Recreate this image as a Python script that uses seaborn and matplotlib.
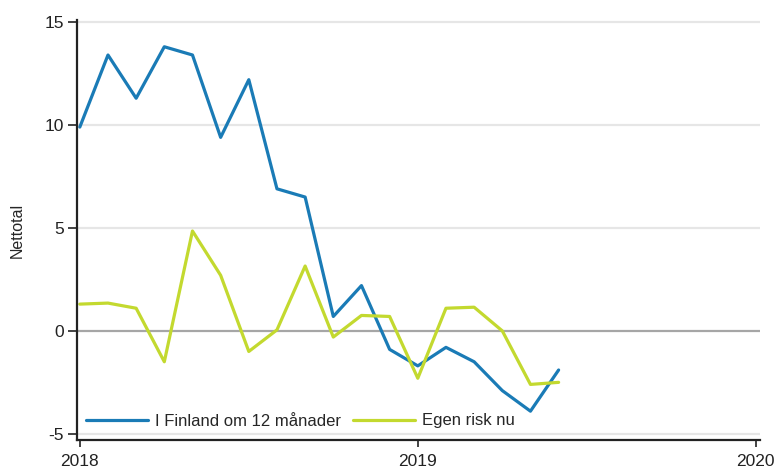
import numpy as np
import pandas as pd
import matplotlib
matplotlib.use("Agg")
import matplotlib.pyplot as plt
import seaborn as sns

months = list(range(18))  # months since Jan 2018
finland_12m = [9.9, 13.4, 11.3, 13.8, 13.4, 9.4, 12.2, 6.9, 6.5, 0.7, 2.2, -0.9,
               -1.7, -0.8, -1.5, -2.9, -3.9, -1.9]
egen_risk = [1.3, 1.35, 1.1, -1.5, 4.85, 2.7, -1.0, 0.05, 3.15, -0.3, 0.75, 0.7,
             -2.3, 1.1, 1.15, 0.0, -2.6, -2.5]
series_names = ["I Finland om 12 månader", "Egen risk nu"]
xtick_pos = [0, 12, 24]
xtick_labels = ["2018", "2019", "2020"]
yticks = [-5, 0, 5, 10, 15]

df = pd.DataFrame({
    "month": months * 2,
    "value": finland_12m + egen_risk,
    "serie": [series_names[0]] * len(months) + [series_names[1]] * len(months),
})

sns.set_style("white")
plt.rcParams['font.family'] = ['Liberation Sans', 'DejaVu Sans']

fig = plt.figure(figsize=(7.77, 4.72), dpi=100)
ax = fig.add_axes([77 / 777, 32 / 472, (760 - 77) / 777, (440 - 20) / 472])

for y in yticks:
    if y != 0:
        ax.axhline(y, color="#e6e6e6", lw=1.6, zorder=0)
ax.axhline(0, color="#a6a6a6", lw=1.6, zorder=1)

sns.lineplot(data=df, x="month", y="value", hue="serie", hue_order=series_names,
             palette=["#1a7bb6", "#c3d92f"], lw=2.3, ax=ax, legend=True)

ax.set_xlim(-0.1, 24.15)
ax.set_ylim(-5.3, 15.1)
ax.set_xticks(xtick_pos)
ax.set_xticklabels(xtick_labels, fontsize=12.5)
ax.set_yticks(yticks)
ax.set_yticklabels([str(v) for v in yticks], fontsize=12.5)
ax.set_xlabel("")
ax.set_ylabel("Nettotal", fontsize=11.5)
ax.yaxis.set_label_coords(-0.076, 0.5)

for s in ["top", "right"]:
    ax.spines[s].set_visible(False)
for s in ["left", "bottom"]:
    ax.spines[s].set_color("#222222")
    ax.spines[s].set_linewidth(1.6)
ax.tick_params(axis="y", direction="out", length=6.5, width=1.2, color="#222222",
               labelcolor="#222222", left=True, pad=3)
ax.tick_params(axis="x", direction="out", length=5, width=1.2, color="#222222",
               labelcolor="#222222", bottom=True, pad=5)

leg = ax.legend(loc="center left", ncol=2, frameon=False, fontsize=12,
                bbox_to_anchor=(9 / 683, 19 / 420), borderaxespad=0, borderpad=0,
                handlelength=3.7, handletextpad=0.45, columnspacing=0.7)

fig.savefig("out.png", dpi=100)
